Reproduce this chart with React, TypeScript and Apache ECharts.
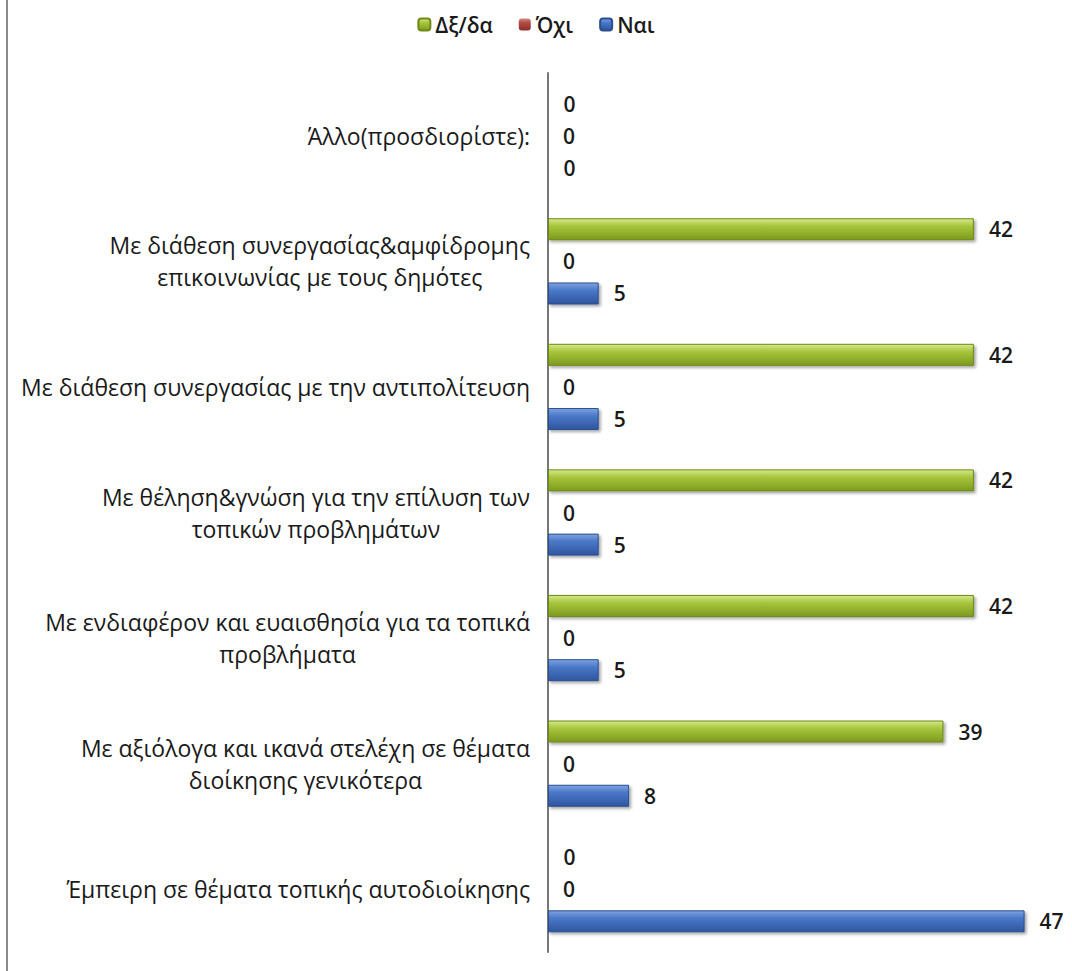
import React, { useEffect, useRef } from "react";
import * as echarts from "echarts";

const categories = [
  "Έμπειρη σε θέματα τοπικής αυτοδιοίκησης",
  "Με αξιόλογα και ικανά στελέχη σε θέματα\nδιοίκησης γενικότερα",
  "Με ενδιαφέρον και ευαισθησία για τα τοπικά\nπροβλήματα",
  "Με θέληση&γνώση για την επίλυση των\nτοπικών προβλημάτων",
  "Με διάθεση συνεργασίας με την αντιπολίτευση",
  "Με διάθεση συνεργασίας&αμφίδρομης\nεπικοινωνίας με τους δημότες",
  "Άλλο(προσδιορίστε):",
];
const naiValues = [47, 8, 5, 5, 5, 5, 0];
const oxiValues = [0, 0, 0, 0, 0, 0, 0];
const dkValues = [0, 39, 42, 42, 42, 42, 0];
const legendNames = ["Δξ/δα", "Όχι", "Ναι"];

const FONT = "'Open Sans', 'Noto Sans', sans-serif";

function grad(top: string, mid: string, bottom: string) {
  return new echarts.graphic.LinearGradient(0, 0, 0, 1, [
    { offset: 0, color: top },
    { offset: 0.35, color: mid },
    { offset: 1, color: bottom },
  ]);
}

export default function App() {
  const ref = useRef<HTMLDivElement>(null);
  useEffect(() => {
    if (!ref.current) return;
    const chart = echarts.init(ref.current, null, { renderer: "svg" });
    const label = {
      show: true,
      position: "right" as const,
      distance: 15,
      color: "#1a1a1a",
      fontFamily: FONT,
      fontWeight: 600,
      fontSize: 21,
    };
    const common = {
      type: "bar" as const,
      barWidth: 22,
      label,
    };
    chart.setOption({
      animation: false,
      backgroundColor: "#ffffff",
      legend: {
        top: 9,
        left: "center",
        itemWidth: 12,
        itemHeight: 12,
        itemGap: 26,
        data: legendNames,
        textStyle: {
          fontFamily: FONT,
          fontSize: 21,
          fontWeight: 600,
          color: "#1a1a1a",
        },
      },
      grid: { left: 548, right: 17, top: 73, bottom: 19 },
      xAxis: {
        type: "value",
        min: 0,
        max: 50,
        show: false,
      },
      yAxis: {
        type: "category",
        data: categories,
        axisLine: { show: true, lineStyle: { color: "#777", width: 2 } },
        axisTick: { show: false },
        axisLabel: {
          margin: 18,
          formatter: (v: string) =>
            v
              .split("\n")
              .map((l) => `{c|${l}}`)
              .join("\n"),
          rich: {
            c: {
              align: "center",
              fontFamily: FONT,
              fontSize: 23,
              lineHeight: 32,
              color: "#1a1a1a",
            },
          },
        },
      },
      series: [
        {
          ...common,
          name: "Δξ/δα",
          data: dkValues,
          barGap: "46%",
          barCategoryGap: "30%",
          itemStyle: {
            color: grad("#d5e88a", "#a8c53c", "#7d9a1f"),
            borderColor: "#6e8a18",
            borderWidth: 1,
            shadowColor: "rgba(0,0,0,0.35)",
            shadowBlur: 3,
            shadowOffsetX: 2,
            shadowOffsetY: 2,
          },
        },
        {
          ...common,
          name: "Όχι",
          data: oxiValues,
          itemStyle: {
            color: grad("#d08a82", "#b44c44", "#8a2f2a"),
            shadowColor: "rgba(0,0,0,0.35)",
            shadowBlur: 3,
          },
        },
        {
          ...common,
          name: "Ναι",
          data: naiValues,
          itemStyle: {
            color: grad("#7ea3e0", "#4a78c8", "#2f559e"),
            borderColor: "#2b4f8e",
            borderWidth: 1,
            shadowColor: "rgba(0,0,0,0.35)",
            shadowBlur: 3,
            shadowOffsetX: 2,
            shadowOffsetY: 2,
          },
        },
      ],
      graphic: [
        {
          type: "line",
          shape: { x1: 7, y1: 0, x2: 7, y2: 971 },
          style: { stroke: "#8a8a8a", lineWidth: 2 },
        },
      ],
    });
    return () => chart.dispose();
  }, []);
  return (
    <div
      ref={ref}
      style={{ position: "absolute", left: 0, top: 0, width: 1072, height: 971 }}
    />
  );
}
